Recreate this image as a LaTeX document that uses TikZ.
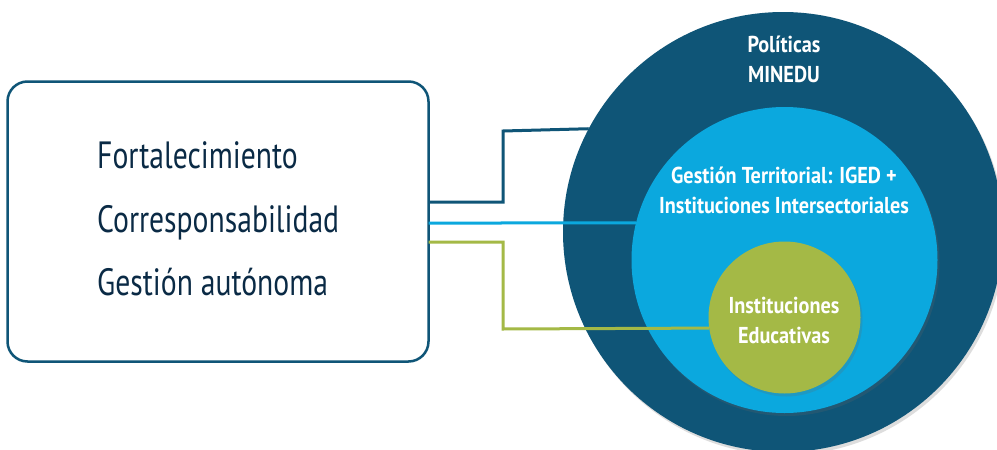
\documentclass[tikz,border=0pt]{standalone}
\usepackage{fontspec}
\setmainfont{PT Sans}[FakeStretch=0.78,BoldFeatures={FakeStretch=0.88}]
\usetikzlibrary{shadows}
\definecolor{navy}{HTML}{0F5577}
\definecolor{sky}{HTML}{0BA8DE}
\definecolor{olive}{HTML}{A4B946}
\definecolor{ink}{HTML}{0A2A45}
\tikzset{
  disc/.style={circle,inner sep=0pt,outer sep=0pt,draw=none},
  shade/.style={drop shadow={shadow xshift=2pt,shadow yshift=-3pt,opacity=0.22,fill=black!60}},
  boxtext/.style={anchor=base west,inner sep=0pt,text=ink,font=\fontsize{38}{44}\selectfont},
  circtext/.style={align=center,inner sep=0pt,text=white,font=\bfseries\fontsize{23}{30}\selectfont},
  link/.style={line width=3pt},
}
\begin{document}
\begin{tikzpicture}[x=1pt,y=-1pt]
\useasboundingbox (0,0) rectangle (997,450);
\fill[white] (0,0) rectangle (997,450);
% circles
\node[disc,fill=navy,minimum size=440pt,shade] (pol) at (783,232) {};
\node[disc,fill=sky,minimum size=306pt,shade] (ter) at (784.5,260) {};
\node[disc,fill=olive,minimum size=152pt,shade] (edu) at (784.5,317.5) {};
% texts in circles (anchor = baseline of last line)
\node[circtext,anchor=base] (tpol) at (784,82) {Políticas\\MINEDU};
\node[circtext,anchor=base] (tter) at (784,213) {Gestión Territorial: IGED +\\Instituciones Intersectoriales};
\node[circtext,anchor=base] (tedu) at (784,343) {Instituciones\\Educativas};
% box
\node[draw=navy,line width=2.5pt,rounded corners=20pt,minimum width=421pt,minimum height=280pt,inner sep=0pt,outer sep=0pt] (box) at (218,221.5) {};
\node[boxtext] (f1) at (97,168) {Fortalecimiento};
\node[boxtext] (f2) at (97,232) {Corresponsabilidad};
\node[boxtext] (f3) at (97,295) {Gestión autónoma};
% connectors
\coordinate (b1) at (503,202);
\coordinate (b1t) at (503,131);
\coordinate (g1) at (503,242);
\coordinate (g1b) at (503,329);
\draw[link,navy] (box.east |- b1) -- (b1) -- (b1t) -- (pol.152.7);
\draw[link,sky] (box.east |- 0,223) -- (ter.166);
\draw[link,olive] (box.east |- g1) -- (g1) -- (g1b) -- (edu.188.7);
\end{tikzpicture}
\end{document}
